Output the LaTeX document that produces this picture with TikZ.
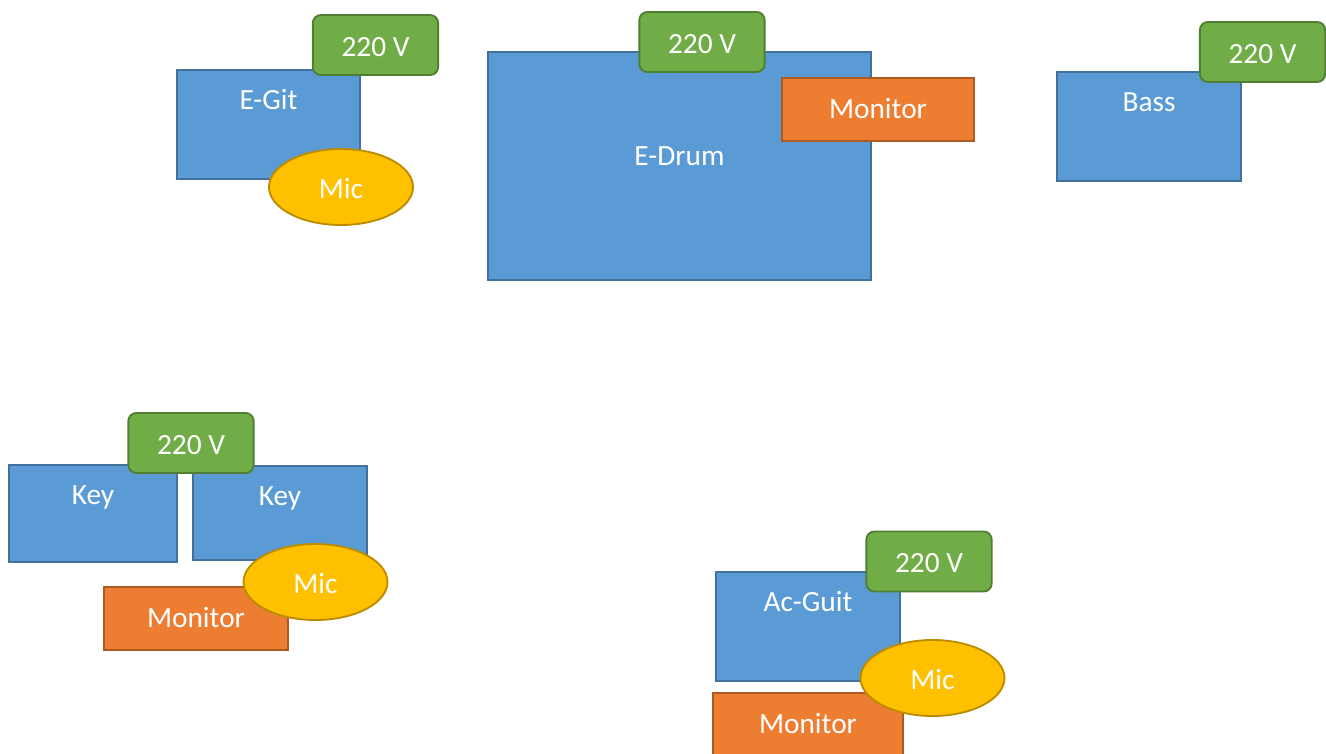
\documentclass[tikz,border=0pt]{standalone}
\usepackage{fontspec}
\setmainfont{Carlito}
\usepackage{tikz}
\usetikzlibrary{shapes.geometric}

\definecolor{instblue}{HTML}{5B9BD5}
\definecolor{instedge}{HTML}{41719C}
\definecolor{pwrgreen}{HTML}{70AD47}
\definecolor{pwredge}{HTML}{507E32}
\definecolor{monorange}{HTML}{ED7D31}
\definecolor{monedge}{HTML}{AE5A21}
\definecolor{micyellow}{HTML}{FFC000}
\definecolor{micedge}{HTML}{BC8C00}

\begin{document}
\begin{tikzpicture}[
    x=0.75pt, y=-0.75pt,
    every node/.style={text=white, font=\fontsize{22}{26}\selectfont, text height=18pt, text depth=1pt},
    inst/.style={rectangle, draw=instedge, fill=instblue, line width=1.4pt},
    toplbl/.style={anchor=center, yshift=-22pt},
    power/.style={rectangle, draw=pwredge, fill=pwrgreen, line width=1.4pt, rounded corners=6pt, minimum width=94pt, minimum height=45pt},
    monitor/.style={rectangle, draw=monedge, fill=monorange, line width=1.4pt, minimum height=47pt, text depth=5pt},
    mic/.style={ellipse, draw=micedge, fill=micyellow, line width=1.4pt, minimum width=108pt, minimum height=57pt, inner sep=0pt}
]
\useasboundingbox (0,0) rectangle (1326,753);

% E-Git
\node[inst, minimum width=137pt, minimum height=82pt, label={[toplbl]north:E-Git}] (egit) at (268.5,124.5) {};
\node[power] (egitpwr) at (375.5,45) {220 V};
\node[mic] (egitmic) at (341,187) {Mic};

% E-Drum
\node[inst, minimum width=287pt, minimum height=171pt, label={[toplbl, yshift=-55pt]north:E-Drum}] (edrum) at (679.5,166) {};
\node[power] (edrumpwr) at (702,42) {220 V};
\node[monitor, minimum width=144pt] (edrummon) at (878,109.5) {Monitor};

% Bass
\node[inst, minimum width=138pt, minimum height=82pt, label={[toplbl]north:Bass}] (bass) at (1149,126.5) {};
\node[power] (basspwr) at (1262.5,52) {220 V};

% Keys
\node[inst, minimum width=126pt, minimum height=73pt, label={[toplbl]north:Key}] (keyl) at (93,513.5) {};
\node[inst, minimum width=130.5pt, minimum height=70.5pt, label={[toplbl]north:Key}] (keyr) at (280,513) {};
\node[power] (keypwr) at (191,443) {220 V};
\node[monitor, minimum width=138pt] (keymon) at (196,618.5) {Monitor};
\node[mic] (keymic) at (315.5,582) {Mic};

% Ac-Guit
\node[inst, minimum width=138pt, minimum height=82pt, label={[toplbl]north:Ac-Guit}] (acguit) at (808,626.5) {};
\node[power] (acpwr) at (929,561.5) {220 V};
\node[monitor, minimum width=142.5pt] (acmon) at (808,724.5) {Monitor};
\node[mic] (acmic) at (932.5,678) {Mic};

\end{tikzpicture}
\end{document}
